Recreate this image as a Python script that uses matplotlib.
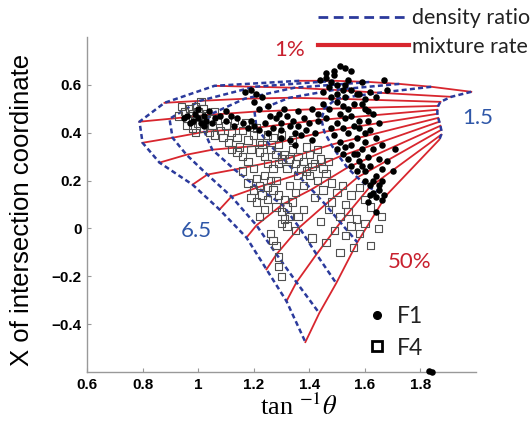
import numpy as np
import matplotlib
matplotlib.use('Agg')
import matplotlib.pyplot as plt
from matplotlib.lines import Line2D

plt.rcParams['mathtext.fontset'] = 'stix'

# curve grid: rows = mixture rate (1% top ... 50% bottom), cols = density ratio
density_ratio = [6.5, 5.5, 4.5, 3.5, 2.5, 1.5]
mixture_rate = [1, 2, 3, 5, 7.5, 10, 15, 20, 25, 30, 40, 50]

grid_x = np.array([
    [1.364, 1.490, 1.616, 1.724, 1.839, 1.983],
    [1.059, 1.203, 1.346, 1.490, 1.652, 1.911],
    [0.879, 1.005, 1.167, 1.328, 1.497, 1.872],
    [0.789, 0.897, 1.041, 1.203, 1.454, 1.864],
    [0.800, 0.908, 1.023, 1.210, 1.444, 1.861],
    [0.861, 0.958, 1.051, 1.257, 1.454, 1.861],
    [0.980, 1.033, 1.131, 1.310, 1.479, 1.864],
    [1.077, 1.120, 1.213, 1.357, 1.508, 1.868],
    [1.174, 1.210, 1.303, 1.408, 1.537, 1.872],
    [1.246, 1.282, 1.364, 1.458, 1.573, 1.875],
    [1.318, 1.354, 1.426, 1.512, 1.616, 1.875],
    [1.386, 1.436, 1.497, 1.573, 1.677, 1.868],
])
grid_y = np.array([
    [0.617, 0.617, 0.612, 0.604, 0.592, 0.571],
    [0.596, 0.592, 0.588, 0.579, 0.567, 0.550],
    [0.525, 0.533, 0.542, 0.546, 0.542, 0.529],
    [0.446, 0.458, 0.475, 0.488, 0.500, 0.512],
    [0.358, 0.379, 0.404, 0.421, 0.454, 0.496],
    [0.275, 0.308, 0.329, 0.350, 0.404, 0.479],
    [0.183, 0.225, 0.246, 0.288, 0.350, 0.462],
    [0.079, 0.133, 0.171, 0.225, 0.300, 0.446],
    [-0.038, 0.013, 0.100, 0.163, 0.254, 0.429],
    [-0.171, -0.108, 0.004, 0.100, 0.213, 0.412],
    [-0.304, -0.225, -0.108, 0.025, 0.171, 0.392],
    [-0.475, -0.354, -0.229, -0.058, 0.138, 0.371],
])

# F1 samples
f1_x = [0.96, 0.98, 0.99, 1.00, 1.01, 1.02, 1.03, 1.00, 0.97, 1.04, 1.05, 1.06, 0.95, 1.02, 1.08,
        1.10, 1.13, 1.16, 1.18, 1.20, 1.22, 1.25, 1.27, 1.24, 1.30, 1.33, 1.35, 1.12,
        1.17, 1.19, 1.21, 1.23, 1.20, 1.25, 1.22,
        1.28, 1.30, 1.32, 1.34, 1.36, 1.38, 1.40, 1.37, 1.33, 1.30, 1.35, 1.39, 1.42, 1.41, 1.43, 1.31, 1.36,
        1.44, 1.46, 1.48, 1.47, 1.49, 1.51, 1.53, 1.50, 1.45, 1.52, 1.50, 1.48, 1.54, 1.46,
        1.50, 1.52, 1.54, 1.51, 1.53, 1.55, 1.50, 1.52, 1.54, 1.56, 1.49, 1.51, 1.53, 1.55, 1.52, 1.54,
        1.56, 1.58, 1.55, 1.57, 1.59, 1.50, 1.48, 1.57, 1.58, 1.56, 1.53,
        1.58, 1.60, 1.62, 1.64, 1.60, 1.63, 1.61, 1.65, 1.62, 1.64, 1.60, 1.66, 1.63, 1.61, 1.65, 1.62,
        1.64, 1.60, 1.62, 1.66, 1.68, 1.70, 1.63, 1.65, 1.64, 1.61, 1.66, 1.67, 1.59,
        1.45, 1.47, 1.43, 1.46, 1.41, 1.53, 1.55, 1.57, 1.59, 1.61, 1.58, 1.60, 1.59, 1.57, 1.60, 1.63,
        1.65, 1.67, 1.62, 1.66, 1.10, 1.14, 1.26, 1.29, 1.19, 1.55, 1.49, 1.68,
        1.64, 1.71, 1.83, 1.84]
f1_y = [0.47, 0.45, 0.48, 0.46, 0.44, 0.47, 0.45, 0.50, 0.44, 0.49, 0.44, 0.46, 0.46, 0.43, 0.47,
        0.45, 0.43, 0.44, 0.42, 0.43, 0.41, 0.40, 0.42, 0.44, 0.41, 0.43, 0.40, 0.47,
        0.57, 0.58, 0.56, 0.55, 0.53, 0.51, 0.50,
        0.46, 0.44, 0.47, 0.45, 0.43, 0.46, 0.44, 0.39, 0.37, 0.38, 0.35, 0.41, 0.40, 0.37, 0.45, 0.50, 0.49,
        0.62, 0.63, 0.61, 0.59, 0.64, 0.68, 0.67, 0.60, 0.57, 0.58, 0.56, 0.55, 0.62, 0.65,
        0.53, 0.51, 0.50, 0.48, 0.46, 0.47, 0.44, 0.42, 0.40, 0.43, 0.39, 0.36, 0.34, 0.35, 0.31, 0.29,
        0.31, 0.28, 0.26, 0.24, 0.26, 0.33, 0.42, 0.38, 0.45, 0.52, 0.55,
        0.56, 0.54, 0.57, 0.55, 0.50, 0.48, 0.45, 0.44, 0.41, 0.38, 0.36, 0.35, 0.33, 0.30, 0.29, 0.26,
        0.22, 0.20, 0.18, 0.20, 0.28, 0.24, 0.15, 0.16, 0.13, 0.11, 0.12, 0.62, 0.61,
        0.52, 0.50, 0.48, 0.46, 0.50, 0.60, 0.58, 0.56, 0.52, 0.49, 0.42, 0.40, 0.33, 0.31, 0.24, 0.20,
        0.18, 0.14, 0.14, 0.25, 0.49, 0.46, 0.47, 0.48, 0.45, 0.66, 0.66, 0.58,
        0.07, 0.33, -0.595, -0.60]

# F4 samples
f4_x = [0.93, 0.95, 0.96, 0.97, 0.98, 0.99, 1.00, 1.01, 1.02, 1.03, 1.04, 0.96, 0.98, 1.00, 1.02, 1.05, 1.06,
        0.94, 1.01, 0.98, 1.07,
        1.08, 1.10, 1.12, 1.14, 1.11, 1.16, 1.18, 1.15, 1.20, 1.22, 1.13, 1.09, 1.17, 1.21, 1.19,
        1.22, 1.24, 1.26, 1.28, 1.30, 1.25, 1.27, 1.29, 1.31, 1.33, 1.35, 1.32, 1.34, 1.36, 1.38, 1.40,
        1.37, 1.42, 1.44, 1.39, 1.23, 1.29,
        1.18, 1.20, 1.22, 1.19, 1.21, 1.23, 1.25, 1.27, 1.29, 1.31, 1.28, 1.30, 1.32, 1.31, 1.33, 1.30,
        1.32, 1.26, 1.24, 1.22, 1.34,
        1.40, 1.43, 1.46, 1.48, 1.45, 1.42, 1.50, 1.52, 1.55, 1.58, 1.60, 1.47, 1.51, 1.54, 1.57, 1.44,
        1.49, 1.53, 1.58, 1.41, 1.46, 1.51, 1.56, 1.62, 1.60, 1.38, 1.65,
        1.16, 1.18, 1.14, 1.20, 1.16, 1.21, 1.24, 1.25, 1.28, 1.33, 1.35, 1.36, 1.39, 1.41, 1.45, 1.47,
        1.43, 1.34, 1.30, 1.27, 1.25, 1.12, 1.06, 1.04, 0.99, 1.36, 1.38, 1.35, 1.29, 1.62, 1.66, 1.55,
        1.48, 1.53,
        1.26, 1.28, 1.29, 1.30, 1.27]
f4_y = [0.47, 0.49, 0.46, 0.50, 0.48, 0.51, 0.49, 0.47, 0.50, 0.48, 0.46, 0.43, 0.42, 0.44, 0.42, 0.43, 0.49,
        0.51, 0.53, 0.45, 0.45,
        0.41, 0.43, 0.40, 0.38, 0.36, 0.41, 0.37, 0.34, 0.39, 0.36, 0.45, 0.38, 0.44, 0.42, 0.33,
        0.32, 0.30, 0.33, 0.31, 0.29, 0.27, 0.25, 0.27, 0.31, 0.29, 0.27, 0.25, 0.33, 0.30, 0.28, 0.31,
        0.25, 0.27, 0.29, 0.34, 0.35, 0.35,
        0.19, 0.16, 0.18, 0.13, 0.11, 0.14, 0.12, 0.16, 0.14, 0.12, 0.09, 0.07, 0.09, 0.04, 0.05, 0.02,
        0.01, 0.20, 0.08, 0.05, 0.11,
        0.22, 0.20, 0.23, 0.19, 0.16, 0.13, 0.15, 0.18, 0.14, 0.17, 0.12, 0.08, 0.05, 0.07, 0.04, 0.03,
        -0.01, -0.03, -0.02, -0.04, -0.06, -0.10, -0.08, -0.07, 0.02, 0.18, 0.00,
        0.30, 0.28, 0.32, 0.25, 0.24, 0.21, 0.22, 0.17, 0.20, 0.18, 0.15, 0.22, 0.24, 0.26, 0.25, 0.28,
        0.33, 0.37, 0.39, 0.38, 0.39, 0.33, 0.39, 0.40, 0.40, 0.05, 0.08, -0.01, -0.16, 0.09, 0.05, 0.01,
        0.11, 0.10,
        -0.02, -0.07, -0.12, -0.20, -0.05]

blue = '#2b3a9c'
red = '#d8262e'
label_blue = '#2f57a8'
label_red = '#c8202e'

fig = plt.figure(figsize=(5.32, 4.21), dpi=100)
ax = fig.add_axes([0.1635, 0.1164, 0.7312, 0.7957])

for i in range(len(mixture_rate)):
    ax.plot(grid_x[i], grid_y[i], color=red, lw=1.3, zorder=2)
for j in range(len(density_ratio)):
    ax.plot(grid_x[:, j], grid_y[:, j], color=blue, lw=1.8, ls=(0, (2.0, 1.3)), zorder=3)

ax.scatter(f4_x, f4_y, s=28, marker='s', facecolor='none', edgecolor='#505050', lw=0.8, zorder=4)
ax.scatter(f1_x, f1_y, s=22, marker='o', color='black', lw=0, zorder=5, clip_on=False)

ax.set_xlim(0.6, 2.0)
ax.set_ylim(-0.6, 0.8)
ax.set_xticks([0.6, 0.8, 1.0, 1.2, 1.4, 1.6, 1.8])
ax.set_xticklabels(['0.6', '0.8', '1', '1.2', '1.4', '1.6', '1.8'])
ax.set_yticks([-0.4, -0.2, 0, 0.2, 0.4, 0.6])
ax.set_yticklabels(['\u22120.4', '\u22120.2', '0', '0.2', '0.4', '0.6'])
for lab in ax.get_xticklabels() + ax.get_yticklabels():
    lab.set_fontfamily('Liberation Sans')
    lab.set_fontweight('bold')
    lab.set_fontsize(11)
ax.tick_params(direction='in', length=3, color='#999999', pad=4)
for side in ['top', 'right']:
    ax.spines[side].set_visible(False)
for side in ['left', 'bottom']:
    ax.spines[side].set_color('#999999')
    ax.spines[side].set_linewidth(1.0)

ax.set_xlabel(r'tan $^{-1}\theta$', family='Liberation Serif', fontsize=19)
ax.xaxis.set_label_coords(0.545, -0.065)
ax.set_ylabel('X of intersection coordinate', family='Liberation Sans', fontsize=18.5)
ax.yaxis.set_label_coords(-0.135, 0.485)

# curve labels
ax.text(2.005, 0.4625, '1.5', color=label_blue, fontsize=16, family='Lato', ha='center', va='center',
        clip_on=False)
ax.text(0.994, -0.0125, '6.5', color=label_blue, fontsize=16, family='Lato', ha='center', va='center')
ax.text(1.76, -0.14, '50%', color=label_red, fontsize=16, family='Lato', ha='center', va='center')
fig.text(0.545, 0.882, '1%', color=label_red, fontsize=16, family='Lato', ha='center', va='center')

h1 = [Line2D([], [], color=blue, lw=2, ls=(0, (3.5, 2.0))),
      Line2D([], [], color=red, lw=3)]
fig.legend(h1, ['density ratio', 'mixture rate'], loc='upper left', bbox_to_anchor=(0.598, 0.98),
           frameon=False, prop={'family': 'Lato', 'size': 15.5}, handlelength=4.2,
           handletextpad=0.15, labelspacing=0.38, borderpad=0.0, borderaxespad=0.0,
           labelcolor='#222222')

h2 = [Line2D([], [], ls='none', marker='o', color='black', ms=5.5),
      Line2D([], [], ls='none', marker='s', mfc='none', mec='black', mew=2, ms=6.5)]
leg2 = ax.legend(h2, ['F1', 'F4'], loc='upper left', bbox_to_anchor=(0.67, 0.258),
                 frameon=False, prop={'family': 'Lato', 'size': 16.5}, handlelength=0.8,
                 handletextpad=0.45, labelspacing=0.45, labelcolor='#222222')

fig.savefig('out.png', dpi=100)
